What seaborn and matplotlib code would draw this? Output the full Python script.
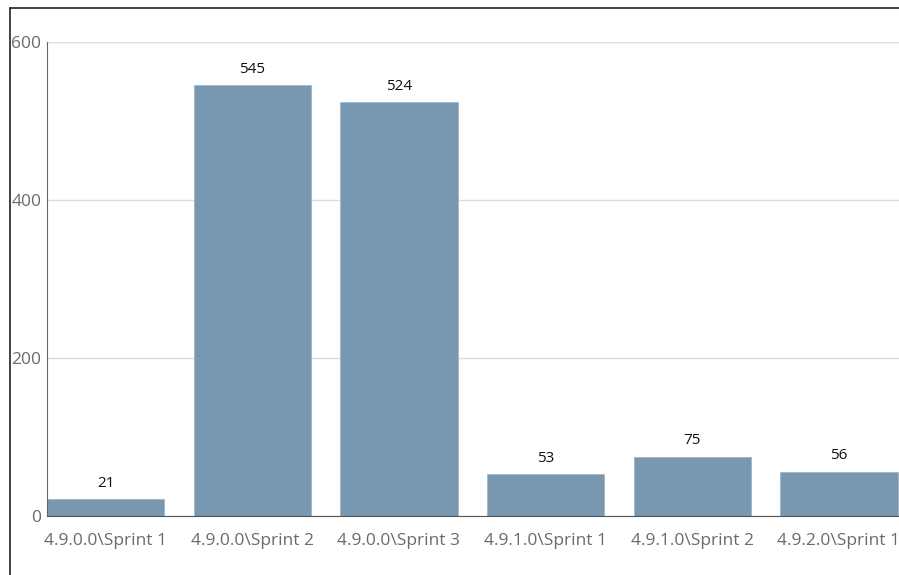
import matplotlib
matplotlib.use("Agg")
import matplotlib.pyplot as plt
import seaborn as sns
import pandas as pd
from matplotlib.lines import Line2D

# dados do gráfico
sprints = ["4.9.0.0\\Sprint 1", "4.9.0.0\\Sprint 2", "4.9.0.0\\Sprint 3",
           "4.9.1.0\\Sprint 1", "4.9.1.0\\Sprint 2", "4.9.2.0\\Sprint 1"]
valores = [21, 545, 524, 53, 75, 56]
yticks = [0, 200, 400, 600]

df = pd.DataFrame({"Sprint": sprints, "Valor": valores})

sns.set_style("white")
plt.rcParams["font.family"] = ["Open Sans", "DejaVu Sans"]

fig = plt.figure(figsize=(8.99, 5.75), dpi=100)
ax = fig.add_axes([47 / 899, 59 / 575, 1 - 47 / 899, 474 / 575])

sns.barplot(x="Sprint", y="Valor", data=df, color="#7897b1", width=0.8,
            saturation=1, edgecolor="#9fb6c8", linewidth=0.6, ax=ax, zorder=2)

for i, v in enumerate(valores):
    ax.annotate(str(v), (i, v), xytext=(0, 6), textcoords="offset points",
                ha="center", va="bottom", fontsize=11, color="#111111")

ax.set_xlim(-0.4, 5.41)
ax.set_ylim(0, 600)
ax.set_yticks(yticks)
ax.yaxis.grid(True, color="#dcdcdc", linewidth=1, zorder=0)
ax.set_axisbelow(True)
ax.set_xlabel("")
ax.set_ylabel("")
for s in ["top", "right"]:
    ax.spines[s].set_visible(False)
ax.spines["left"].set_color("#666666")
ax.spines["bottom"].set_color("#555555")
ax.tick_params(axis="x", length=5, width=1, color="#333333", labelsize=12.5,
               labelcolor="#6b6b6b", pad=7)
ax.tick_params(axis="y", length=0, labelsize=12.5, labelcolor="#6b6b6b", pad=4)

# moldura da janela
fig.add_artist(Line2D([10 / 899, 10 / 899], [0, 1 - 8 / 575], color="#222222",
                      linewidth=1.2, transform=fig.transFigure))
fig.add_artist(Line2D([10 / 899, 1], [1 - 8 / 575, 1 - 8 / 575], color="#222222",
                      linewidth=1.2, transform=fig.transFigure))

fig.savefig("out.png", dpi=100)
